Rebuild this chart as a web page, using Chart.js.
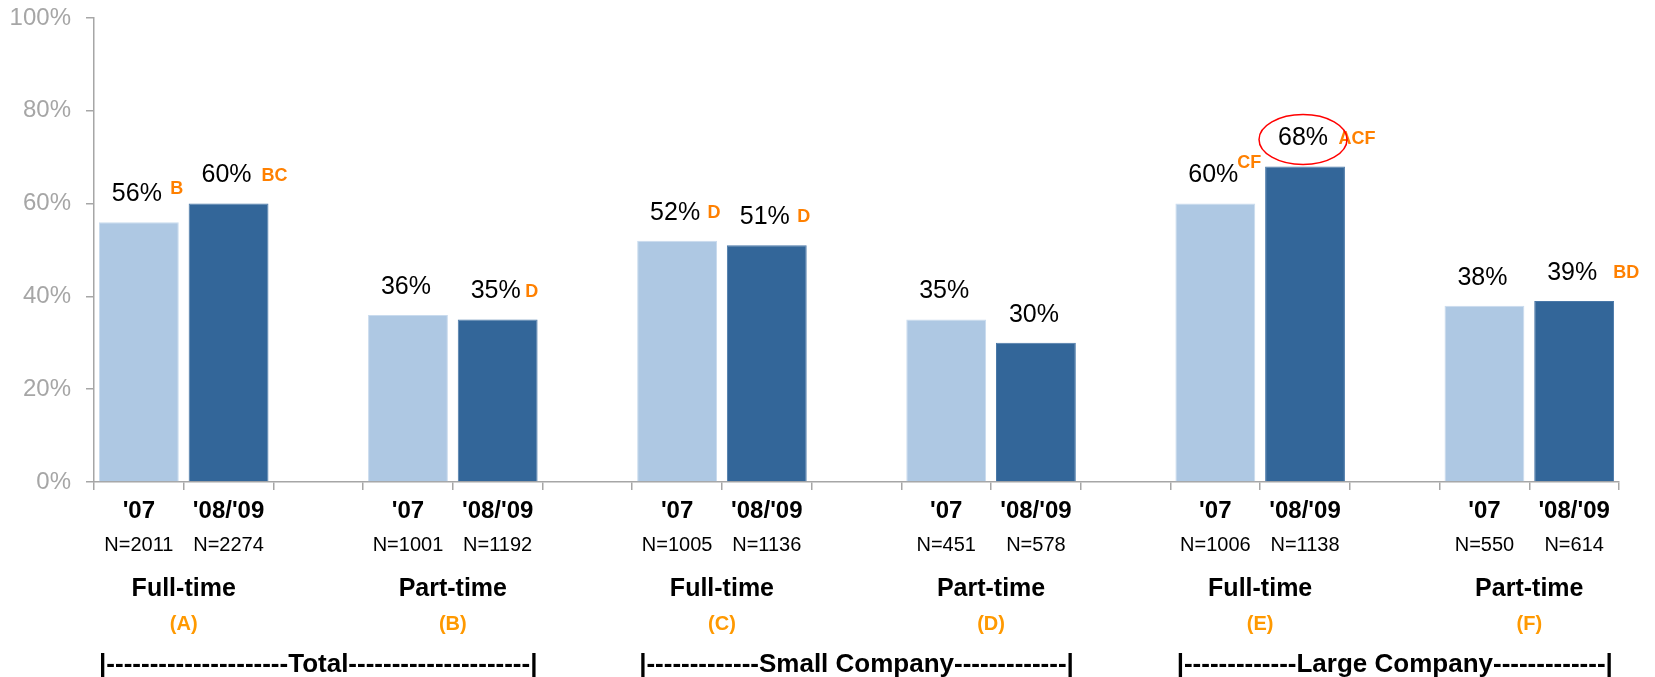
<!DOCTYPE html>
<html>
<head>
<meta charset="utf-8">
<script src="https://cdn.jsdelivr.net/npm/chart.js@4/dist/chart.umd.min.js"></script>
<style>
  html, body { margin: 0; padding: 0; background: #ffffff; }
  #wrap { width: 1655px; height: 677px; position: relative; }
</style>
</head>
<body>
<div id="wrap"><canvas id="c" width="1655" height="677"></canvas></div>
<script>
// ---- data ----
const years = ["'07", "'08/'09"];
const groupNames = ["Full-time", "Part-time", "Full-time", "Part-time", "Full-time", "Part-time"];
const groupCodes = ["(A)", "(B)", "(C)", "(D)", "(E)", "(F)"];
const segmentNames = ["Total", "Small Company", "Large Company"];
const values07 = [56, 36, 52, 35, 60, 38];
const values0809 = [60, 35, 51, 30, 68, 39];
const n07 = [2011, 1001, 1005, 451, 1006, 550];
const n0809 = [2274, 1192, 1136, 578, 1138, 614];
const sig07 = ["B", "", "D", "", "CF", ""];
const sig0809 = ["BC", "D", "D", "", "ACF", "BD"];
const yTicks = [0, 20, 40, 60, 80, 100];
const highlighted = { group: 4, year: 1 };

// ---- layout (styling only) ----
const sigOffset07 = [[40, -5], [0, 0], [39, 0], [0, 0], [36, -13], [0, 0]];
const sigOffset0809 = [[48, 0], [36, 0], [39, 0], [0, 0], [54, 1], [54, 0]];

// build category slots: '07, '08/'09, gap  per group (no trailing gap)
const slots = [];
const data07 = [];
const data0809 = [];
groupNames.forEach((g, i) => {
  slots.push(years[0]); data07.push(values07[i]); data0809.push(null);
  slots.push(years[1]); data07.push(null); data0809.push(values0809[i]);
  if (i < groupNames.length - 1) { slots.push(""); data07.push(null); data0809.push(null); }
});

const FONT = "'Liberation Sans', Arial, Helvetica, sans-serif";
const ORANGE = "#FF8000";
const ORANGE2 = "#FF9900";

const annotate = {
  id: 'annotate',
  afterDatasetsDraw(chart) {
    const ctx = chart.ctx;
    const x = chart.scales.x, y = chart.scales.y;
    ctx.save();
    ctx.textBaseline = 'middle';
    groupNames.forEach((g, i) => {
      const i07 = i * 3, i08 = i * 3 + 1;
      const pairs = [
        [i07, values07[i], sig07[i], sigOffset07[i], n07[i], 0],
        [i08, values0809[i], sig0809[i], sigOffset0809[i], n0809[i], 1]
      ];
      pairs.forEach(([idx, v, sig, off, n, yr]) => {
        const cx = x.getPixelForValue(idx);
        const lx = cx - 2;
        const ly = y.getPixelForValue(v) - 28;
        ctx.font = "25px " + FONT;
        ctx.fillStyle = "#000";
        ctx.textAlign = 'center';
        ctx.fillText(v + "%", lx, ly);
        if (sig) {
          ctx.font = "bold 18px " + FONT;
          ctx.fillStyle = ORANGE;
          ctx.fillText(sig, lx + off[0], ly + off[1]);
        }
        if (highlighted.group === i && highlighted.year === yr) {
          ctx.beginPath();
          ctx.ellipse(lx, ly + 1, 44, 25, 0, 0, Math.PI * 2);
          ctx.strokeStyle = "#FF0000";
          ctx.lineWidth = 1.5;
          ctx.stroke();
        }
        // x labels
        ctx.fillStyle = "#000";
        ctx.font = "bold 24px " + FONT;
        ctx.fillText(years[yr], cx, 511);
        ctx.font = "20px " + FONT;
        ctx.fillText("N=" + n, cx, 545);
      });
      const gx = (x.getPixelForValue(i07) + x.getPixelForValue(i08)) / 2;
      ctx.font = "bold 25px " + FONT;
      ctx.fillStyle = "#000";
      ctx.fillText(groupNames[i], gx, 589);
      ctx.font = "bold 20px " + FONT;
      ctx.fillStyle = ORANGE2;
      ctx.fillText(groupCodes[i], gx, 624);
    });
    // segment brackets
    segmentNames.forEach((s, k) => {
      const cx = x.getPixelForValue(k * 6 + 2);
      const half = 219;
      ctx.font = "bold 26px " + FONT;
      const wBar = ctx.measureText("|").width;
      const wDash = ctx.measureText("-").width;
      const wLab = ctx.measureText(s).width;
      const nd = Math.max(1, Math.round((half * 2 - wLab - 2 * wBar) / (2 * wDash)));
      const dashes = "-".repeat(nd);
      ctx.fillStyle = "#000";
      ctx.textAlign = 'center';
      ctx.fillText("|" + dashes + s + dashes + "|", cx, 665);
    });
    ctx.restore();
  }
};

new Chart(document.getElementById('c'), {
  type: 'bar',
  data: {
    labels: slots,
    datasets: [
      { label: years[0], data: data07, backgroundColor: "#AEC8E3", borderColor: "#C9DBEE", borderWidth: 1, skipNull: true, barPercentage: 0.89, categoryPercentage: 1 },
      { label: years[1], data: data0809, backgroundColor: "#336699", borderColor: "#4A78A8", borderWidth: 1, skipNull: true, barPercentage: 0.89, categoryPercentage: 1 }
    ]
  },
  options: {
    responsive: false,
    animation: false,
    layout: { padding: { top: 18, right: 36, bottom: 187, left: 0 } },
    plugins: { legend: { display: false }, tooltip: { enabled: false } },
    scales: {
      x: {
        grid: { offset: true, drawOnChartArea: false, drawTicks: true, tickLength: 8, color: "#A6A6A6", lineWidth: 1.5 },
        border: { color: "#A6A6A6", width: 1.5 },
        ticks: { display: false }
      },
      y: {
        min: 0, max: 100,
        afterFit(scale) { scale.width = 94; scale.paddingTop = 0; scale.paddingBottom = 0; },
        afterBuildTicks(scale) { scale.ticks = yTicks.map(v => ({ value: v })); },
        grid: { drawOnChartArea: false, drawTicks: true, tickLength: 8, color: "#A6A6A6", lineWidth: 1.5 },
        border: { color: "#A6A6A6", width: 1.5 },
        ticks: { callback: v => v + "%", font: { family: FONT, size: 24 }, color: "#A6A6A6", padding: 15 }
      }
    }
  },
  plugins: [annotate]
});
</script>
</body>
</html>
